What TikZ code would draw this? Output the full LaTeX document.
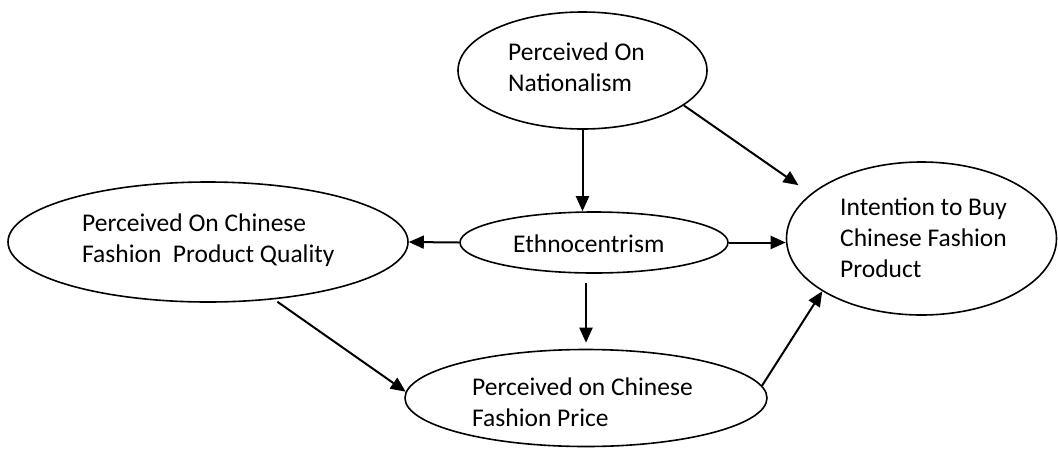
\documentclass[tikz,border=0pt]{standalone}
\usepackage{fontspec}
\setmainfont{Carlito}
\usetikzlibrary{shapes.geometric,arrows.meta}
\begin{document}
\begin{tikzpicture}[x=1pt,y=-1pt,
  oval/.style={draw,ellipse,line width=1.6pt,inner sep=0pt},
  lbl/.style={font=\fontsize{25.5}{31}\selectfont,align=left,anchor=base west,inner sep=0pt},
  arr/.style={line width=2pt,-{Triangle[length=15pt,width=13pt]}}]
\useasboundingbox (0,0) rectangle (1058,448);
% ellipses
\node[oval,minimum width=249pt,minimum height=117pt] (nat) at (582.5,70.5) {};
\node[oval,minimum width=270pt,minimum height=153pt] (int) at (921.5,238.5) {};
\node[oval,minimum width=400pt,minimum height=120pt] (qual) at (208,242) {};
\node[oval,minimum width=268pt,minimum height=61pt] (eth) at (594,242.5) {};
\node[oval,minimum width=362pt,minimum height=97pt] (price) at (586,398) {};
% labels (anchor is the baseline of the last line)
\node[lbl] (natT) at (508,91) {Perceived On\\Nationalism};
\node[lbl] (intT) at (840,277) {Intention to Buy\\Chinese Fashion\\Product};
\node[lbl] (qualT) at (82,262) {Perceived On Chinese\\Fashion\ \ Product Quality};
\node[lbl] (ethT) at (513,252) {Ethnocentrism};
\node[lbl] (priceT) at (472,426) {Perceived on Chinese\\Fashion Price};
% connectors
\draw[arr] (nat.south) -- (nat.south |- eth.north);
\draw[arr,shorten >=15pt] (nat.-19) -- (int.158);
\draw[arr] (eth.west) -- (qual.east);
\draw[arr] (eth.east) -- (eth.east -| int.west);
\draw[arr,shorten <=9pt,shorten >=6pt] (eth.south -| price.north) -- (price.north);
\draw[arr,shorten <=4pt] (qual.-41) -- (price.178);
\draw[arr] (price.4) -- (int.-152);
\end{tikzpicture}
\end{document}
